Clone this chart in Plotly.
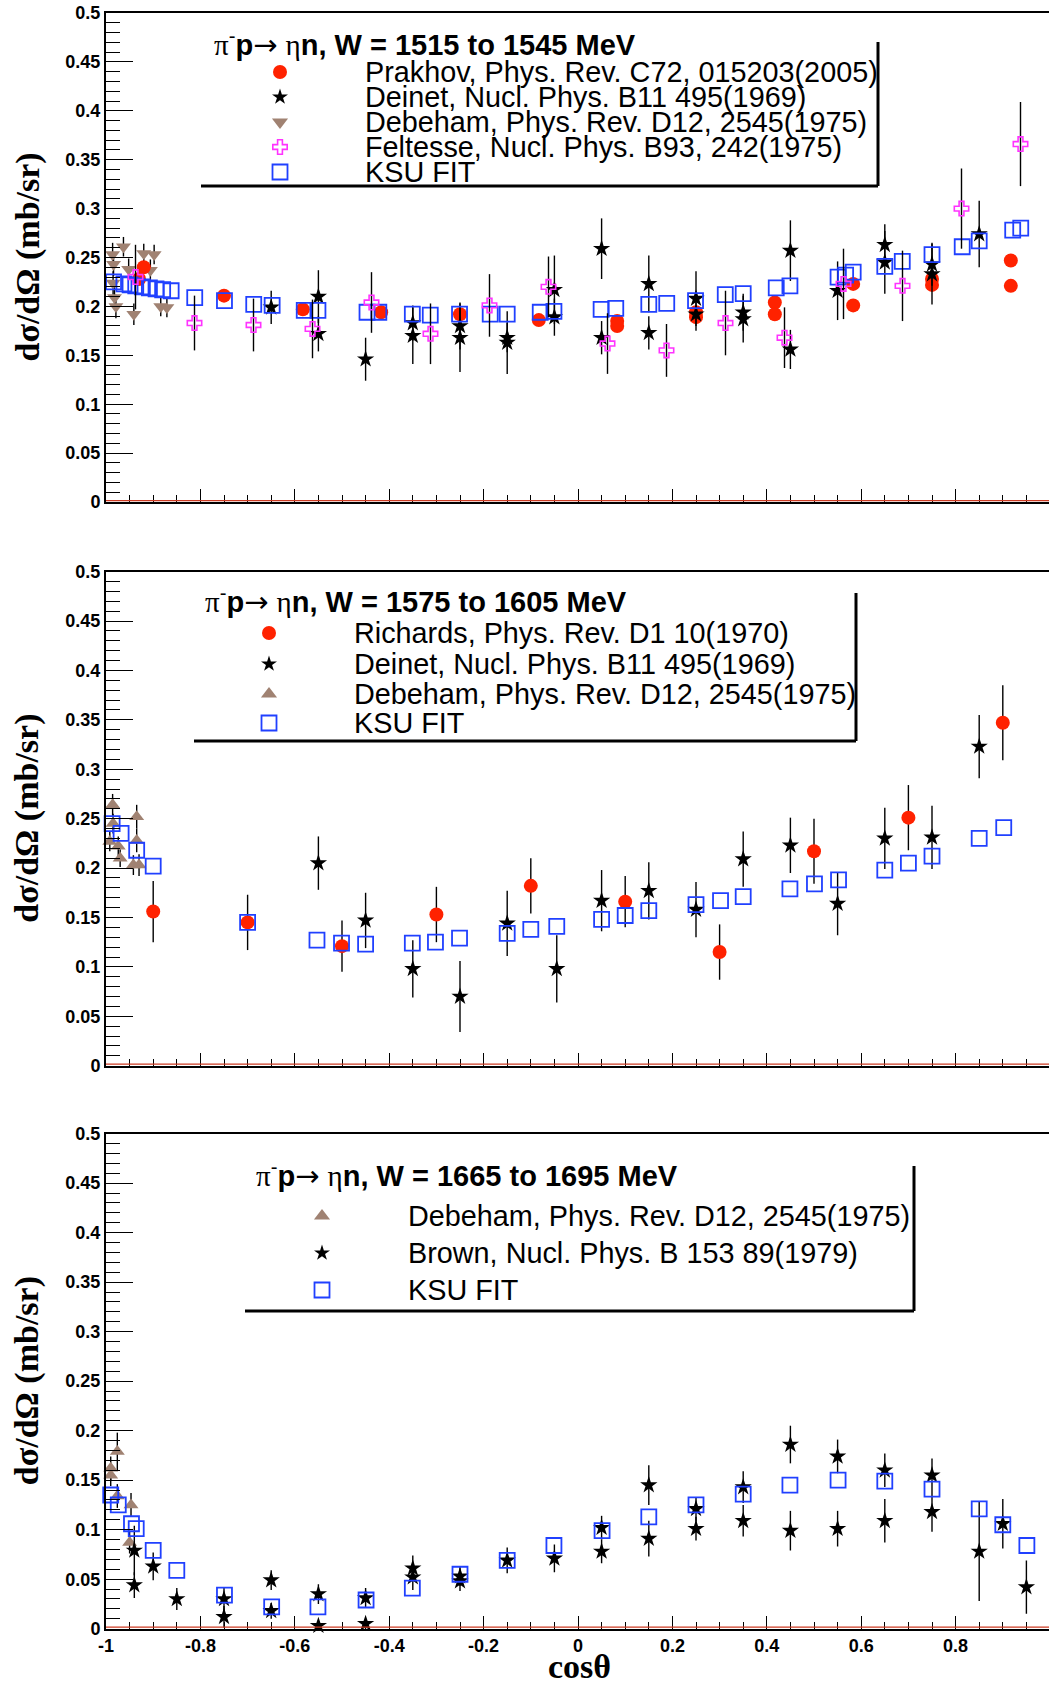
import plotly.graph_objects as go

# ---------------- W = 1515 to 1545 MeV ----------------
prakhov_a_cos = [-0.92, -0.93, -0.75, -0.583, -0.417, -0.25, -0.083, 0.083, 0.083, 0.25, 0.25,
                 0.417, 0.417, 0.583, 0.583, 0.75, 0.75, 0.917, 0.917]
prakhov_a_val = [0.240, 0.228, 0.211, 0.197, 0.194, 0.192, 0.186, 0.185, 0.180, 0.194, 0.189,
                 0.204, 0.192, 0.223, 0.201, 0.228, 0.222, 0.247, 0.221]

deinet_a_cos = [-0.65, -0.55, -0.55, -0.45, -0.35, -0.35, -0.25, -0.25, -0.15, -0.15, -0.05, -0.05,
                0.05, 0.05, 0.15, 0.15, 0.25, 0.25, 0.35, 0.35, 0.45, 0.45, 0.55, 0.65, 0.65,
                0.75, 0.75, 0.85]
deinet_a_val = [0.199, 0.210, 0.172, 0.146, 0.183, 0.170, 0.180, 0.168, 0.168, 0.163, 0.217, 0.189,
                0.259, 0.168, 0.223, 0.173, 0.208, 0.192, 0.194, 0.187, 0.257, 0.156, 0.216, 0.263,
                0.245, 0.243, 0.233, 0.274]
deinet_a_err = [0.017, 0.027, 0.018, 0.022, 0.018, 0.029, 0.024, 0.035, 0.015, 0.032, 0.035, 0.019,
                0.031, 0.017, 0.029, 0.017, 0.028, 0.017, 0.019, 0.024, 0.031, 0.020, 0.030, 0.021,
                0.032, 0.022, 0.031, 0.034]

debeham_a_cos = [-0.986, -0.984, -0.963, -0.952, -0.920, -0.898, -0.906, -0.985, -0.982, -0.979,
                 -0.941, -0.884, -0.871]
debeham_a_val = [0.253, 0.243, 0.261, 0.238, 0.254, 0.253, 0.237, 0.224, 0.209, 0.200,
                 0.192, 0.200, 0.199]
debeham_a_err = [0.012, 0.012, 0.010, 0.011, 0.010, 0.010, 0.011, 0.012, 0.012, 0.012,
                 0.011, 0.010, 0.010]

feltesse_a_cos = [-0.9375, -0.8125, -0.6875, -0.5625, -0.4375, -0.3125, -0.1875, -0.0625,
                  0.0625, 0.1875, 0.3125, 0.4375, 0.5625, 0.6875, 0.8125, 0.9375]
feltesse_a_val = [0.230, 0.183, 0.181, 0.177, 0.204, 0.172, 0.201, 0.220,
                  0.162, 0.155, 0.183, 0.168, 0.223, 0.221, 0.300, 0.366]
feltesse_a_err = [0.033, 0.028, 0.027, 0.030, 0.031, 0.031, 0.032, 0.031,
                  0.031, 0.027, 0.033, 0.031, 0.036, 0.036, 0.041, 0.043]

ksu_a_cos = [-0.984, -0.962, -0.949, -0.937, -0.923, -0.908, -0.894, -0.880, -0.862, -0.812,
             -0.749, -0.687, -0.648, -0.580, -0.551, -0.447, -0.422, -0.351, -0.313, -0.251,
             -0.186, -0.150, -0.080, -0.051, 0.049, 0.080, 0.150, 0.188, 0.249, 0.312,
             0.350, 0.420, 0.449, 0.551, 0.567, 0.583, 0.650, 0.687, 0.750, 0.814,
             0.850, 0.921, 0.938]
ksu_a_val = [0.225, 0.223, 0.222, 0.221, 0.220, 0.219, 0.218, 0.217, 0.216, 0.209,
             0.206, 0.202, 0.201, 0.196, 0.196, 0.194, 0.194, 0.192, 0.191, 0.192,
             0.192, 0.192, 0.194, 0.195, 0.197, 0.198, 0.202, 0.203, 0.206, 0.212,
             0.213, 0.219, 0.221, 0.230, 0.232, 0.235, 0.241, 0.246, 0.253, 0.261,
             0.267, 0.278, 0.280]

# ---------------- W = 1575 to 1605 MeV ----------------
richards_b_cos = [-0.9, -0.7, -0.5, -0.3, -0.1, 0.1, 0.3, 0.5, 0.7, 0.9]
richards_b_val = [0.156, 0.145, 0.121, 0.153, 0.182, 0.166, 0.115, 0.217, 0.251, 0.347]
richards_b_err = [0.031, 0.028, 0.026, 0.028, 0.028, 0.026, 0.028, 0.033, 0.033, 0.038]

deinet_b_cos = [-0.55, -0.45, -0.35, -0.25, -0.15, -0.045, 0.05, 0.15, 0.25, 0.35, 0.45, 0.55,
                0.65, 0.75, 0.85]
deinet_b_val = [0.205, 0.147, 0.098, 0.070, 0.144, 0.098, 0.167, 0.177, 0.158, 0.209, 0.223, 0.164,
                0.230, 0.231, 0.323]
deinet_b_err = [0.027, 0.028, 0.029, 0.036, 0.033, 0.034, 0.031, 0.029, 0.028, 0.028, 0.028, 0.032,
                0.031, 0.032, 0.032]

debeham_b_cos = [-0.986, -0.985, -0.935, -0.992, -0.974, -0.970, -0.935, -0.942, -0.930]
debeham_b_val = [0.264, 0.245, 0.252, 0.227, 0.222, 0.210, 0.228, 0.203, 0.203]
debeham_b_err = [0.011, 0.010, 0.012, 0.010, 0.010, 0.009, 0.012, 0.010, 0.011]

ksu_b_cos = [-0.987, -0.968, -0.935, -0.900, -0.700, -0.553, -0.501, -0.450, -0.351, -0.302,
             -0.251, -0.150, -0.100, -0.045, 0.050, 0.100, 0.150, 0.250, 0.302, 0.350,
             0.449, 0.501, 0.552, 0.650, 0.700, 0.750, 0.850, 0.902]
ksu_b_val = [0.245, 0.235, 0.218, 0.202, 0.145, 0.127, 0.124, 0.123, 0.124, 0.125,
             0.129, 0.134, 0.138, 0.141, 0.148, 0.152, 0.157, 0.163, 0.167, 0.171,
             0.179, 0.184, 0.188, 0.198, 0.205, 0.212, 0.230, 0.241]

# ---------------- W = 1665 to 1695 MeV ----------------
debeham_c_cos = [-0.976, -0.990, -0.990, -0.976, -0.947, -0.950]
debeham_c_val = [0.179, 0.162, 0.155, 0.134, 0.125, 0.087]
debeham_c_err = [0.019, 0.012, 0.011, 0.012, 0.012, 0.011]

brown_c_cos = [-0.94, -0.94, -0.90, -0.85, -0.75, -0.75, -0.65, -0.65, -0.55, -0.55, -0.45, -0.45,
               -0.35, -0.35, -0.25, -0.25, -0.15, -0.05, 0.05, 0.05, 0.15, 0.15, 0.25, 0.25,
               0.35, 0.35, 0.45, 0.45, 0.55, 0.55, 0.65, 0.65, 0.75, 0.75, 0.85, 0.90, 0.95]
brown_c_val = [0.079, 0.044, 0.063, 0.030, 0.030, 0.012, 0.049, 0.018, 0.035, 0.003, 0.031, 0.005,
               0.061, 0.052, 0.053, 0.048, 0.069, 0.071, 0.102, 0.078, 0.145, 0.091, 0.121, 0.101,
               0.143, 0.109, 0.186, 0.099, 0.174, 0.101, 0.160, 0.109, 0.155, 0.118, 0.078, 0.106,
               0.042]
brown_c_err = [0.025, 0.013, 0.014, 0.011, 0.012, 0.011, 0.010, 0.008, 0.010, 0.005, 0.010, 0.005,
               0.013, 0.013, 0.010, 0.010, 0.013, 0.014, 0.012, 0.012, 0.020, 0.018, 0.012, 0.012,
               0.016, 0.016, 0.019, 0.020, 0.017, 0.018, 0.017, 0.022, 0.017, 0.020, 0.050, 0.025,
               0.027]

ksu_c_cos = [-0.990, -0.974, -0.946, -0.936, -0.900, -0.850, -0.749, -0.649, -0.551, -0.449,
             -0.351, -0.250, -0.150, -0.051, 0.051, 0.150, 0.250, 0.350, 0.449, 0.551,
             0.650, 0.750, 0.850, 0.900, 0.951]
ksu_c_val = [0.135, 0.125, 0.106, 0.101, 0.079, 0.059, 0.034, 0.022, 0.022, 0.029,
             0.041, 0.055, 0.069, 0.084, 0.099, 0.113, 0.125, 0.136, 0.145, 0.150,
             0.149, 0.141, 0.121, 0.105, 0.084]

# ---------------- axis ticks and labels ----------------
x_tick_vals = [-1, -0.8, -0.6, -0.4, -0.2, 0, 0.2, 0.4, 0.6, 0.8, 1]
x_tick_text = ["-1", "-0.8", "-0.6", "-0.4", "-0.2", "0", "0.2", "0.4", "0.6", "0.8", "1"]
y_tick_vals = [0, 0.05, 0.1, 0.15, 0.2, 0.25, 0.3, 0.35, 0.4, 0.45, 0.5]
y_tick_text = ["0", "0.05", "0.1", "0.15", "0.2", "0.25", "0.3", "0.35", "0.4", "0.45", "0.5"]

y_title = "dσ/dΩ (mb/sr)"
x_title = "cosθ"

titles = ["1515 to 1545", "1575 to 1605", "1665 to 1695"]
legend_a = ["Prakhov, Phys. Rev. C72, 015203(2005)", "Deinet, Nucl. Phys. B11 495(1969)",
            "Debeham, Phys. Rev. D12, 2545(1975)", "Feltesse, Nucl. Phys. B93, 242(1975)", "KSU FIT"]
legend_b = ["Richards, Phys. Rev. D1 10(1970)", "Deinet, Nucl. Phys. B11 495(1969)",
            "Debeham, Phys. Rev. D12, 2545(1975)", "KSU FIT"]
legend_c = ["Debeham, Phys. Rev. D12, 2545(1975)", "Brown, Nucl. Phys. B 153 89(1979)", "KSU FIT"]

# ---------------- styles ----------------
RED = "#ff2200"
BLUE = "#2040ff"
BROWN = "#a08272"
MAGENTA = "#ff33ff"
SANS = "Liberation Sans"
SERIF = "Liberation Serif"

STYLE = {
    "circle": dict(symbol="circle", size=14, color=RED, lw=0),
    "star": dict(symbol="star", size=13, color="black", lw=0),
    "tri_down": dict(symbol="triangle-down", size=13, color=BROWN, lw=0),
    "tri_up": dict(symbol="triangle-up", size=13, color=BROWN, lw=0),
    "cross": dict(symbol="cross-open", size=12, color=MAGENTA, lw=1.6),
    "square": dict(symbol="square-open", size=15, color=BLUE, lw=1.8),
}

W, H = 1049, 1688
ML, MR, MT, MB = 106, 0, 13, 59
PLOT_BOTTOM = H - MB          # pixel row of the bottom of the plotting area
PLOT_H = H - MT - MB
PLOT_W = W - ML - MR

# vertical extents of the three panels in pixels (top, bottom)
PANEL_PX = [(13, 502), (571.6, 1065.7), (1133.6, 1628.7)]


def dom(top, bottom):
    return [(PLOT_BOTTOM - bottom) / PLOT_H, (PLOT_BOTTOM - top) / PLOT_H]


def paper_x(px):
    return (px - ML) / PLOT_W


def paper_y(py):
    return (PLOT_BOTTOM - py) / PLOT_H


fig = go.Figure()


def add_series(xs, ys, errs, sfx, style, msize=None):
    st = STYLE[style]
    tr = go.Scatter(
        x=xs, y=ys, mode="markers", xaxis="x" + sfx, yaxis="y" + sfx,
        cliponaxis=False, showlegend=False, hoverinfo="skip",
        marker=dict(symbol=st["symbol"], size=msize or st["size"], color=st["color"],
                    line=dict(width=st["lw"], color=st["color"])),
    )
    if errs is not None:
        tr.error_y = dict(type="data", array=errs, visible=True, color="black",
                          thickness=1.4, width=0)
    fig.add_trace(tr)


# panel 1
add_series(debeham_a_cos, debeham_a_val, debeham_a_err, "", "tri_down")
add_series(prakhov_a_cos, prakhov_a_val, None, "", "circle")
add_series(deinet_a_cos, deinet_a_val, deinet_a_err, "", "star")
add_series(ksu_a_cos, ksu_a_val, None, "", "square")
add_series(feltesse_a_cos, feltesse_a_val, feltesse_a_err, "", "cross")

# panel 2
add_series(debeham_b_cos, debeham_b_val, debeham_b_err, "2", "tri_up")
add_series(richards_b_cos, richards_b_val, richards_b_err, "2", "circle")
add_series(deinet_b_cos, deinet_b_val, deinet_b_err, "2", "star")
add_series(ksu_b_cos, ksu_b_val, None, "2", "square")

# panel 3
add_series(debeham_c_cos, debeham_c_val, debeham_c_err, "3", "tri_up")
add_series(brown_c_cos, brown_c_val, brown_c_err, "3", "star")
add_series(ksu_c_cos, ksu_c_val, None, "3", "square")

# ---------------- legend boxes (drawn in page pixel coordinates on helper axes) ----------------
LEGENDS = [
    dict(title=titles[0], labels=legend_a, styles=["circle", "star", "tri_down", "cross", "square"],
         title_xy=(212, 43), mx=280, tx=363, rows=[72, 97, 122, 147, 172],
         box=dict(left=201, right=878, top=42, bottom=186)),
    dict(title=titles[1], labels=legend_b, styles=["circle", "star", "tri_up", "square"],
         title_xy=(203, 600), mx=269, tx=352, rows=[633, 664, 694, 723],
         box=dict(left=194, right=856, top=593, bottom=741)),
    dict(title=titles[2], labels=legend_c, styles=["tri_up", "star", "square"],
         title_xy=(254, 1174), mx=322, tx=406, rows=[1216, 1253, 1290],
         box=dict(left=245, right=914, top=1166, bottom=1311)),
]

annotations = []
shapes = []
legend_marker_size = {"circle": 14, "star": 12, "tri_down": 14, "tri_up": 14, "cross": 12, "square": 15}

for lg in LEGENDS:
    for lab, sty, row in zip(lg["labels"], lg["styles"], lg["rows"]):
        add_series([lg["mx"]], [row], None, "4", sty, legend_marker_size[sty])
        annotations.append(dict(x=lg["tx"], y=row, xref="x4", yref="y4", text=lab, showarrow=False,
                                xanchor="left", yanchor="middle",
                                font=dict(family=SANS, size=28.8, color="black")))
    tx, ty = lg["title_xy"]
    title_html = (f'<span style="font-family:{SERIF}">π</span><sup>-</sup><b>p</b>'
                  f'<span style="font-family:DejaVu Sans">→</span> '
                  f'<span style="font-family:{SERIF}">η</span><b>n, W = {lg["title"]} MeV</b>')
    annotations.append(dict(x=tx, y=ty, xref="x4", yref="y4", text=title_html, showarrow=False,
                            xanchor="left", yanchor="middle",
                            font=dict(family=SANS, size=29, color="black")))
    b = lg["box"]
    shapes.append(dict(type="line", xref="x4", yref="y4", x0=b["left"], x1=b["right"],
                       y0=b["bottom"], y1=b["bottom"], line=dict(color="black", width=3)))
    shapes.append(dict(type="line", xref="x4", yref="y4", x0=b["right"], x1=b["right"],
                       y0=b["top"], y1=b["bottom"], line=dict(color="black", width=3)))

# axis titles (paper coordinates, outside the plotting area)
for top, bottom in PANEL_PX:
    annotations.append(dict(x=paper_x(27), y=paper_y((top + bottom) / 2), xref="paper", yref="paper",
                            text=f"<b>{y_title}</b>", textangle=-90, showarrow=False,
                            xanchor="center", yanchor="middle",
                            font=dict(family=SERIF, size=34, color="black")))
annotations.append(dict(x=paper_x(579), y=paper_y(1667), xref="paper", yref="paper",
                        text=f"<b>{x_title}</b>", showarrow=False, xanchor="center", yanchor="middle",
                        borderpad=0, font=dict(family=SERIF, size=34, color="black")))

# thin red line along the zero level of each panel
for sfx in ["", "2", "3"]:
    shapes.append(dict(type="line", xref=f"x{sfx} domain", yref=f"y{sfx} domain", x0=0, x1=1,
                       y0=0.003, y1=0.003, line=dict(color="#cc3a22", width=1.3)))

XRANGE = [-1, -1 + PLOT_W / 472.0]


def xaxis_cfg(sfx, labels):
    return dict(
        domain=[0, 1], range=XRANGE, anchor="y" + sfx, showgrid=False, zeroline=False,
        showline=True, linecolor="black", linewidth=2, mirror=True,
        ticks="inside", tickmode="array", tickvals=x_tick_vals, ticktext=x_tick_text,
        ticklen=13, tickwidth=1.3, tickcolor="black",
        minor=dict(tickmode="linear", tick0=-1, dtick=0.05, ticks="inside", ticklen=7,
                   tickwidth=1.3, tickcolor="black", showgrid=False),
        showticklabels=labels,
        tickfont=dict(family=SANS, size=18, color="black", weight="bold"),
    )


def yaxis_cfg(sfx, top, bottom):
    return dict(
        domain=dom(top, bottom), range=[0, 0.5], anchor="x" + sfx, showgrid=False, zeroline=False,
        showline=True, linecolor="black", linewidth=2,
        ticks="inside", tickmode="array", tickvals=y_tick_vals, ticktext=y_tick_text,
        ticklen=27, tickwidth=1.3, tickcolor="black",
        minor=dict(tickmode="linear", tick0=0, dtick=0.01, ticks="inside", ticklen=14,
                   tickwidth=1.3, tickcolor="black", showgrid=False),
        tickfont=dict(family=SANS, size=18, color="black", weight="bold"),
    )


fig.update_layout(
    width=W, height=H, autosize=False,
    margin=dict(l=ML, r=MR, t=MT, b=MB, pad=0),
    paper_bgcolor="white", plot_bgcolor="rgba(0,0,0,0)",
    showlegend=False,
    xaxis=xaxis_cfg("", False),
    xaxis2=xaxis_cfg("2", False),
    xaxis3=xaxis_cfg("3", True),
    yaxis=yaxis_cfg("", *PANEL_PX[0]),
    yaxis2=yaxis_cfg("2", *PANEL_PX[1]),
    yaxis3=yaxis_cfg("3", *PANEL_PX[2]),
    xaxis4=dict(domain=[0, 1], range=[ML, W - MR], anchor="y4", visible=False, fixedrange=True),
    yaxis4=dict(domain=[0, 1], range=[PLOT_BOTTOM, MT], anchor="x4", visible=False, fixedrange=True),
    annotations=annotations,
    shapes=shapes,
)

fig.write_html("out.html")
